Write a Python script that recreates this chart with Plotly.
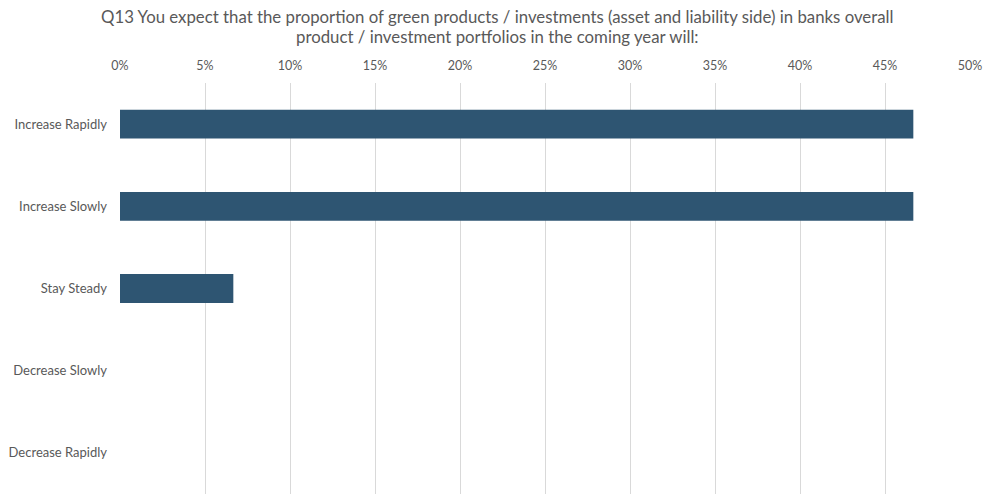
import plotly.graph_objects as go

# Survey responses (share of respondents)
categories = ["Increase Rapidly", "Increase Slowly", "Stay Steady", "Decrease Slowly", "Decrease Rapidly"]
shares = [7 / 15, 7 / 15, 1 / 15, 0, 0]
tick_values = [0, 0.05, 0.10, 0.15, 0.20, 0.25, 0.30, 0.35, 0.40, 0.45, 0.50]
tick_labels = ["0%", "5%", "10%", "15%", "20%", "25%", "30%", "35%", "40%", "45%", "50%"]

title_lines = [
    "Q13 You expect that the proportion of green products / investments (asset and liability side) in banks overall",
    "product / investment portfolios in the coming year will:",
]

font_family = "Lato, 'Open Sans', sans-serif"
text_grey = "#595959"

W, H = 987, 496
M_L, M_R, M_T, M_B = 120, 17, 83, 2
plot_h = H - M_T - M_B

fig = go.Figure(
    go.Bar(
        x=shares,
        y=categories,
        orientation="h",
        marker=dict(color="#2E5572", line=dict(width=0)),
        width=0.35,
        hoverinfo="skip",
    )
)

# Two-line heading, one annotation per line for tighter line spacing
for line, y_px in zip(title_lines, [17, 37]):
    fig.add_annotation(
        text=line,
        xref="paper",
        yref="paper",
        x=0.444,
        y=1 + (M_T - y_px) / plot_h,
        xanchor="center",
        yanchor="middle",
        showarrow=False,
        font=dict(family=font_family, size=16.8, color=text_grey),
    )

fig.update_layout(
    width=W,
    height=H,
    margin=dict(l=M_L, r=M_R, t=M_T, b=M_B),
    paper_bgcolor="white",
    plot_bgcolor="white",
    showlegend=False,
    font=dict(family=font_family, color=text_grey, size=12),
    xaxis=dict(
        side="top",
        range=[0, 0.5],
        tickvals=tick_values,
        ticktext=tick_labels,
        showgrid=True,
        gridcolor="#D9D9D9",
        gridwidth=1,
        zeroline=False,
        showline=False,
        ticks="",
        ticklabelstandoff=10,
        tickfont=dict(size=12.5, color=text_grey),
        fixedrange=True,
    ),
    yaxis=dict(
        categoryorder="array",
        categoryarray=categories,
        autorange="reversed",
        showgrid=False,
        zeroline=False,
        showline=False,
        ticks="",
        ticklabelstandoff=12,
        tickfont=dict(size=13, color=text_grey),
        fixedrange=True,
    ),
)

fig.write_html("out.html")
